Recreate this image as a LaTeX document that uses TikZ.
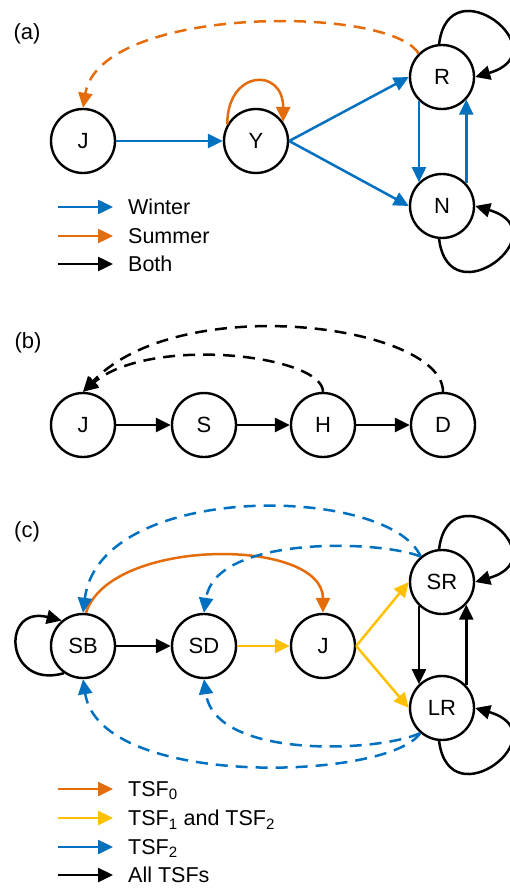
\documentclass[tikz,border=0pt]{standalone}
\usepackage{fontspec}
\setmainfont{Liberation Sans}
\usetikzlibrary{arrows.meta}
\definecolor{winterblue}{HTML}{0070C0}
\definecolor{summerorange}{HTML}{E46C0A}
\definecolor{tsfyellow}{HTML}{FFC000}
\begin{document}
\begin{tikzpicture}[
    x=1pt,y=1pt,
    state/.style={draw,circle,line width=2.4pt,minimum size=64pt,inner sep=0pt,font=\fontsize{22}{26}\selectfont},
    legend/.style={anchor=west,inner sep=0pt,text depth=0pt,font=\fontsize{21.5}{26}\selectfont},
    panel/.style={font=\fontsize{22}{26}\selectfont},
    link/.style={->,line width=2.5pt},
    longdash/.style={dash pattern=on 12pt off 8pt},
    winter/.style={link,winterblue},
    summer/.style={link,summerorange},
    both/.style={link,black},
    tsfzero/.style={link,summerorange},
    tsfonetwo/.style={link,tsfyellow},
    tsftwo/.style={link,winterblue},
    alltsf/.style={link,black},
    >={Triangle[length=15pt,width=14pt]}
]
\useasboundingbox (0,0) rectangle (509,-890);

\node[panel] (la) at (27,-34) {(a)};
\node[state] (aJ) at (83,-141) {J};
\node[state] (aY) at (256,-141) {Y};
\node[state] (aR) at (442,-77) {R};
\node[state] (aN) at (442,-206) {N};

\draw[winter] (aJ) -- (aY);
\draw[winter] (aY.east) -- (aR.west);
\draw[winter] (aY.east) -- (aN.west);
\draw[winter] (aR.-134) -- (aN.134);
\draw[winter] (aN.43) -- (aR.-43);
\draw[summer] (aY.150) .. controls +(0,55) and +(0,55) .. (aY.35);
\draw[summer,longdash] (aR.135) .. controls (390,-5) and (100,-5) .. (aJ.north);
\draw[both] (aR.95) .. controls +(10,80) and +(86,25) .. (aR.0);
\draw[both] (aN.-95) .. controls +(10,-80) and +(86,-25) .. (aN.0);

\node[legend] (lgW) at (128,-207) {Winter};
\node[legend] (lgS) at (128,-236) {Summer};
\node[legend] (lgB) at (128,-264) {Both};
\draw[winter] ([xshift=-70pt]lgW.west) -- ([xshift=-15pt]lgW.west);
\draw[summer] ([xshift=-70pt]lgS.west) -- ([xshift=-15pt]lgS.west);
\draw[both] ([xshift=-70pt]lgB.west) -- ([xshift=-15pt]lgB.west);

\node[panel] (lb) at (28,-343) {(b)};
\node[state] (bJ) at (83,-425) {J};
\node[state] (bS) at (204,-425) {S};
\node[state] (bH) at (323,-425) {H};
\node[state] (bD) at (443,-425) {D};

\draw[both] (bJ) -- (bS);
\draw[both] (bS) -- (bH);
\draw[both] (bH) -- (bD);
\draw[both,longdash] (bH.north) .. controls (323,-355) and (150,-335) .. (bJ.north);
\draw[both,longdash] (bD.north) .. controls (443,-325) and (180,-290) .. (bJ.north);

\node[panel] (lc) at (27,-532) {(c)};
\node[state] (cSB) at (83,-646) {SB};
\node[state] (cSD) at (204,-646) {SD};
\node[state] (cJ) at (323,-646) {J};
\node[state] (cSR) at (442,-582) {SR};
\node[state] (cLR) at (442,-708) {LR};

\draw[alltsf] (cSB) -- (cSD);
\draw[tsfonetwo] (cSD) -- (cJ);
\draw[tsfonetwo] (cJ.east) -- (cSR.west);
\draw[tsfonetwo] (cJ.east) -- (cLR.west);
\draw[alltsf] (cSR.-134) -- (cLR.134);
\draw[alltsf] (cLR.43) -- (cSR.-43);
\draw[alltsf] (cSR.95) .. controls +(10,80) and +(86,25) .. (cSR.0);
\draw[alltsf] (cLR.-95) .. controls +(10,-80) and +(86,-25) .. (cLR.0);
\draw[alltsf] (cSB.235) .. controls (5,-690) and (0,-605) .. (cSB.130);
\draw[tsfzero] (cSB.85) .. controls (110,-537) and (323,-537) .. (cJ.north);
\draw[tsftwo,longdash] (cSR.130) .. controls (390,-485) and (100,-480) .. (cSB.north);
\draw[tsftwo,longdash] (cSR.130) .. controls (380,-540) and (215,-535) .. (cSD.north);
\draw[tsftwo,longdash] (cLR.229) .. controls (390,-780) and (100,-790) .. (cSB.south);
\draw[tsftwo,longdash] (cLR.229) .. controls (380,-752) and (215,-760) .. (cSD.south);

\node[legend] (lgZ) at (128,-789) {TSF\textsubscript{0}};
\node[legend] (lgO) at (128,-818) {TSF\textsubscript{1} and TSF\textsubscript{2}};
\node[legend] (lgT) at (128,-847) {TSF\textsubscript{2}};
\node[legend] (lgA) at (128,-875) {All TSFs};
\draw[tsfzero] ([xshift=-70pt]lgZ.west) -- ([xshift=-15pt]lgZ.west);
\draw[tsfonetwo] ([xshift=-70pt]lgO.west) -- ([xshift=-15pt]lgO.west);
\draw[tsftwo] ([xshift=-70pt]lgT.west) -- ([xshift=-15pt]lgT.west);
\draw[alltsf] ([xshift=-70pt]lgA.west) -- ([xshift=-15pt]lgA.west);
\end{tikzpicture}
\end{document}
